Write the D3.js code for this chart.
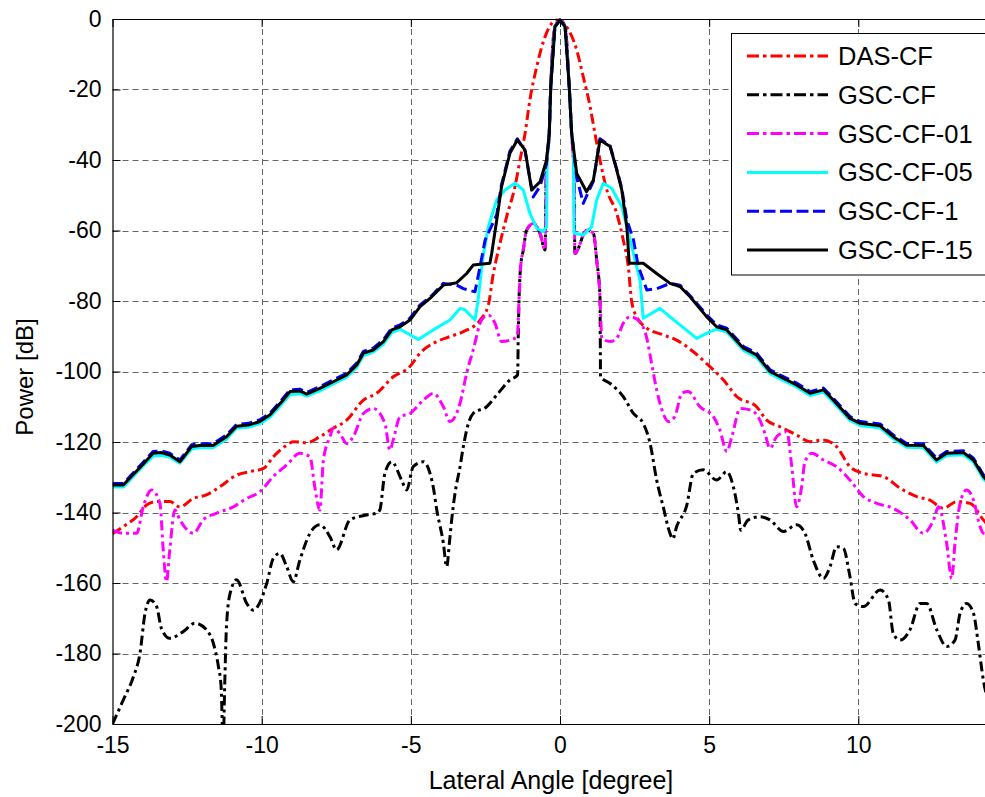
<!DOCTYPE html>
<html>
<head>
<meta charset="utf-8">
<script src="https://cdn.jsdelivr.net/npm/d3@7"></script>
<style>
  html, body { margin: 0; padding: 0; background: #fff; }
  svg { display: block; font-family: "Liberation Sans", Arial, sans-serif; }
</style>
</head>
<body>
<svg id="chart" width="985" height="797"></svg>
<script>
// ---------------- DATA ----------------
const seriesNames = ["DAS-CF", "GSC-CF", "GSC-CF-01", "GSC-CF-05", "GSC-CF-1", "GSC-CF-15"];
const xTicks = [-15, -10, -5, 0, 5, 10];
const xTickLabels = ["-15", "-10", "-5", "0", "5", "10"];
const yTicks = [0, -20, -40, -60, -80, -100, -120, -140, -160, -180, -200];
const yTickLabels = ["0", "-20", "-40", "-60", "-80", "-100", "-120", "-140", "-160", "-180", "-200"];

const dasX = [-15, -14.64, -14.19, -13.86, -13.52, -13.08, -12.74, -12.29, -11.85, -11.40, -10.84, -10.39, -9.94, -9.61, -9.16, -8.94, -8.49, -8.05, -7.60, -7.15, -6.59, -6.15, -5.59, -5.03, -4.69, -4.13, -3.69, -3.24, -2.68, -2.40, -2.25, -2.01, -1.79, -1.51, -1.34, -1.17, -1.01, -0.78, -0.50, -0.11, 0, 0.22, 0.56, 0.78, 1.01, 1.17, 1.34, 1.57, 1.90, 2.12, 2.29, 2.40, 2.57, 2.91, 3.46, 3.91, 4.47, 4.97, 5.48, 5.92, 6.59, 6.93, 7.38, 7.93, 8.38, 8.83, 9.27, 9.72, 10.17, 10.84, 11.40, 11.96, 12.40, 12.85, 13.30, 13.75, 14.19, 14.6];
const dasY = [-146, -144.0, -141.2, -137.9, -136.9, -136.9, -138.4, -136.0, -135.0, -132.7, -129.4, -128.4, -127.5, -124.2, -120.9, -119.9, -120.2, -118.5, -116.1, -113.8, -108.1, -106.2, -101.5, -98.6, -94.8, -91.5, -90.1, -88.7, -85.4, -81.1, -73.0, -63.6, -56.1, -47.6, -40.0, -32.4, -23.0, -13.5, -5.0, -0.3, -0.4, -2.2, -8.8, -16.4, -24.9, -32.4, -40.0, -48.5, -55.1, -62.7, -70.3, -80.0, -84.5, -87.7, -89.6, -91.1, -94.4, -98.2, -102.4, -107.1, -110.0, -113.8, -115.7, -118.0, -119.9, -119.4, -121.3, -127.0, -128.9, -129.8, -133.1, -135.5, -136.5, -138.8, -136.9, -137.4, -142.1, -146];

const gscX = [-15, -14.64, -14.30, -14.08, -13.91, -13.74, -13.52, -13.36, -13.08, -12.63, -12.24, -11.85, -11.62, -11.45, -11.36, -11.29, -11.24, -11.18, -11.06, -10.84, -10.50, -10.28, -9.83, -9.61, -9.39, -9.16, -8.94, -8.72, -8.38, -8.05, -7.71, -7.49, -7.04, -6.48, -6.15, -6.04, -5.87, -5.64, -5.31, -5.14, -4.92, -4.58, -4.25, -4.13, -3.91, -3.80, -3.70, -3.63, -3.52, -3.35, -3.24, -3.07, -2.91, -2.46, -2.12, -1.68, -1.42, -1.40, -1.37, -1.32, -1.23, -1.12, -0.89, -0.67, -0.50, -0.46, -0.36, -0.31, -0.17, 0, 0.17, 0.31, 0.39, 0.47, 0.50, 0.89, 1.12, 1.23, 1.34, 1.36, 1.68, 2.12, 2.46, 2.79, 3.02, 3.24, 3.46, 3.69, 3.78, 3.91, 4.25, 4.47, 4.80, 5.25, 5.59, 5.81, 5.98, 6.06, 6.31, 6.70, 7.04, 7.49, 7.93, 8.21, 8.49, 8.83, 9.05, 9.27, 9.50, 9.72, 9.89, 10.17, 10.73, 11.01, 11.17, 11.40, 11.73, 12.07, 12.29, 12.63, 12.96, 13.24, 13.41, 13.63, 13.86, 14.02, 14.19, 14.45];
const gscY = [-200, -193.2, -186.6, -180.0, -168.6, -164.8, -166.7, -172.9, -175.7, -173.8, -171.4, -173.3, -177.1, -183.7, -189.4, -206, -189.4, -172.4, -163.0, -159.1, -165.8, -167.7, -160.1, -153.0, -151.6, -155.4, -159.6, -153.5, -145.9, -143.5, -146.9, -150.6, -142.1, -140.7, -140.2, -139.3, -128.9, -125.6, -130.8, -133.6, -127.0, -125.6, -132.7, -139.3, -148.7, -155.4, -148.0, -142.0, -134.6, -127.0, -121.3, -114.7, -111.9, -110.0, -106.7, -102.4, -101.0, -90.0, -78.8, -70.3, -65.5, -59.9, -58.0, -60.8, -65.5, -42.0, -32.4, -19.2, -2.2, -0.3, -2.2, -19.2, -32.4, -45.0, -66.5, -59.9, -60.8, -68.4, -78.8, -101.5, -103.4, -107.1, -111.9, -114.7, -120.4, -130.8, -138.4, -146.0, -147.5, -144.0, -137.9, -128.9, -127.9, -130.8, -128.4, -132.7, -140.2, -145.0, -142.1, -141.2, -142.1, -145.4, -143.5, -145.9, -153.5, -158.7, -155.4, -149.7, -150.2, -158.2, -165.8, -166.7, -162.0, -164.8, -174.3, -176.2, -173.3, -165.8, -165.8, -173.3, -178.0, -176.2, -168.6, -165.8, -168.6, -177.1, -187.5, -196];

const gsc01X = [-15, -14.64, -14.19, -13.97, -13.69, -13.41, -13.30, -13.19, -13.08, -12.91, -12.74, -12.29, -11.96, -11.51, -10.95, -10.50, -10.06, -9.61, -9.16, -8.72, -8.38, -8.22, -8.05, -7.93, -7.71, -7.60, -7.38, -7.15, -6.93, -6.59, -6.26, -5.87, -5.70, -5.59, -5.36, -5.03, -4.58, -4.25, -3.91, -3.69, -3.35, -3.13, -2.91, -2.63, -2.40, -2.18, -1.96, -1.68, -1.43, -1.37, -1.32, -1.23, -1.12, -0.89, -0.67, -0.50, -0.46, -0.36, -0.31, -0.17, 0, 0.17, 0.31, 0.39, 0.47, 0.50, 0.89, 1.12, 1.23, 1.34, 1.40, 1.68, 1.90, 2.12, 2.35, 2.62, 2.91, 3.07, 3.24, 3.46, 3.63, 3.85, 4.08, 4.30, 4.69, 5.14, 5.36, 5.59, 5.76, 6.04, 6.37, 6.70, 6.87, 7.04, 7.26, 7.60, 7.77, 7.93, 8.10, 8.21, 8.44, 8.83, 9.27, 9.72, 10.17, 10.62, 11.17, 11.73, 12.18, 12.52, 12.69, 12.96, 13.13, 13.24, 13.41, 13.63, 13.86, 14.08, 14.19, 14.5];
const gsc01Y = [-145.0, -145.9, -145.9, -138.4, -133.6, -137.4, -150.6, -159.6, -150.6, -139.3, -142.1, -145.9, -142.1, -140.2, -138.4, -136.0, -134.1, -129.8, -126.5, -123.2, -124.2, -132.7, -139.3, -125.1, -118.5, -116.1, -117.6, -120.4, -118.5, -111.9, -110.5, -114.7, -122.3, -119.4, -112.8, -111.9, -108.1, -106.2, -110.0, -114.2, -109.0, -100.5, -93.9, -85.4, -84.0, -86.3, -91.5, -91.1, -90.1, -78.8, -70.3, -65.5, -59.9, -58.0, -60.8, -65.5, -42.0, -32.4, -19.2, -2.2, -0.3, -2.2, -19.2, -32.4, -45.0, -66.5, -59.9, -60.8, -68.4, -78.8, -90.6, -91.5, -90.6, -86.3, -84.5, -85.4, -90.6, -97.7, -105.2, -111.9, -114.2, -112.8, -106.2, -105.7, -110.0, -112.8, -116.6, -122.7, -118.5, -110.5, -110.9, -113.8, -117.6, -121.8, -118.5, -117.1, -127.0, -138.4, -132.7, -125.6, -123.2, -125.1, -127.0, -130.8, -135.5, -137.4, -138.8, -142.1, -145.9, -142.1, -138.4, -148.7, -158.7, -148.7, -137.4, -133.6, -136.5, -144.0, -145.9, -146];

const gsc05X = [-15, -14.64, -14.0, -13.64, -13.36, -13.08, -12.74, -12.35, -12.07, -11.63, -11.18, -10.84, -10.45, -10.06, -9.72, -9.33, -9.05, -8.72, -8.49, -8.05, -7.60, -7.15, -6.82, -6.59, -6.26, -5.92, -5.64, -5.36, -4.75, -4.25, -3.69, -3.35, -3.19, -2.85, -2.75, -2.58, -2.40, -2.12, -1.84, -1.51, -1.23, -1.01, -0.78, -0.56, -0.45, -0.43, -0.36, -0.31, -0.17, 0, 0.17, 0.31, 0.39, 0.45, 0.47, 0.78, 1.06, 1.23, 1.45, 1.73, 2.07, 2.46, 2.68, 2.79, 3.35, 3.69, 4.58, 5.03, 5.25, 5.59, 6.15, 6.59, 7.04, 7.38, 7.93, 8.38, 8.83, 9.16, 9.72, 10.06, 10.73, 11.17, 11.62, 12.18, 12.62, 12.96, 13.52, 13.86, 14.19, 14.5];
const gsc05Y = [-132.8, -132.8, -127.0, -124.0, -123.8, -124.3, -126.0, -122.0, -121.6, -121.6, -119.2, -116.0, -115.8, -114.8, -113.0, -109.3, -106.5, -106.3, -107.0, -105.5, -103.5, -101.6, -98.9, -95.5, -94.5, -92.2, -89.0, -88.0, -90.9, -88.2, -85.4, -82.1, -82.5, -85.4, -80.0, -67.4, -58.9, -51.3, -48.5, -46.6, -48.5, -55.1, -59.4, -60.3, -58.9, -39.1, -32.4, -19.2, -2.2, -0.3, -2.2, -19.2, -32.4, -36.2, -60.8, -61.3, -58.9, -51.3, -46.6, -48.0, -53.2, -66.5, -74.0, -84.9, -82.1, -84.5, -90.6, -88.7, -88.0, -88.8, -94.0, -96.0, -100.6, -102.1, -104.4, -106.8, -105.8, -108.7, -113.9, -115.3, -116.0, -119.1, -121.5, -121.6, -125.7, -123.8, -123.6, -125.7, -130.4, -133];

const gsc1X = [-15, -14.64, -14.0, -13.64, -13.36, -13.08, -12.74, -12.35, -12.07, -11.63, -11.18, -10.84, -10.45, -10.06, -9.72, -9.33, -9.05, -8.72, -8.49, -8.05, -7.60, -7.15, -6.82, -6.59, -6.26, -5.92, -5.64, -5.36, -5.03, -4.69, -4.30, -3.91, -3.46, -3.24, -2.85, -2.68, -2.51, -2.12, -1.96, -1.68, -1.43, -1.17, -0.90, -0.67, -0.45, -0.36, -0.31, -0.17, 0, 0.17, 0.31, 0.39, 0.56, 0.78, 1.12, 1.34, 1.68, 1.90, 2.07, 2.24, 2.46, 2.62, 2.91, 3.24, 3.69, 4.02, 4.36, 4.92, 5.25, 5.59, 6.15, 6.59, 7.04, 7.38, 7.93, 8.38, 8.83, 9.16, 9.72, 10.06, 10.73, 11.17, 11.62, 12.18, 12.62, 12.96, 13.52, 13.86, 14.19, 14.5];
const gsc1Y = [-131.8, -131.8, -126.0, -122.7, -122.5, -123.2, -125.1, -120.8, -120.5, -120.5, -118.0, -115.0, -114.7, -113.7, -111.8, -108.1, -105.2, -105.0, -105.9, -104.3, -102.4, -100.5, -97.7, -94.3, -93.4, -91.0, -87.7, -86.8, -84.9, -81.1, -78.5, -75.0, -75.5, -76.5, -77.4, -70.3, -62.7, -55.5, -47.0, -37.5, -34.0, -37.5, -50.5, -47.5, -41.0, -32.4, -19.2, -2.2, -0.3, -2.2, -19.2, -32.4, -45.0, -52.3, -46.0, -34.0, -36.0, -42.5, -48.0, -57.0, -62.5, -70.0, -76.9, -76.5, -75.0, -75.5, -78.5, -84.0, -86.8, -87.7, -92.9, -94.8, -99.5, -101.0, -103.3, -105.7, -104.7, -107.6, -112.8, -114.2, -114.9, -118.0, -120.4, -120.5, -124.6, -122.7, -122.5, -124.6, -129.3, -132];

const gsc15X = [-15, -14.64, -14.0, -13.64, -13.36, -13.08, -12.74, -12.35, -12.07, -11.63, -11.18, -10.84, -10.45, -10.06, -9.72, -9.33, -9.05, -8.72, -8.49, -8.05, -7.60, -7.15, -6.82, -6.59, -6.26, -5.92, -5.64, -5.36, -5.03, -4.69, -4.30, -3.91, -3.46, -3.13, -2.91, -2.35, -2.29, -2.12, -1.96, -1.68, -1.43, -1.17, -0.95, -0.67, -0.45, -0.36, -0.31, -0.17, 0, 0.17, 0.31, 0.39, 0.56, 0.89, 1.12, 1.34, 1.68, 1.90, 2.07, 2.24, 2.32, 2.79, 3.24, 3.69, 4.02, 4.36, 4.92, 5.25, 5.59, 6.15, 6.59, 7.04, 7.38, 7.93, 8.38, 8.83, 9.16, 9.72, 10.06, 10.73, 11.17, 11.62, 12.18, 12.62, 12.96, 13.52, 13.86, 14.19, 14.5];
const gsc15Y = [-132.2, -132.2, -126.5, -123.2, -123.0, -123.7, -125.6, -121.3, -121.0, -121.0, -118.5, -115.5, -115.2, -114.2, -112.3, -108.6, -105.7, -105.5, -106.4, -104.8, -102.9, -101.0, -98.2, -94.8, -93.9, -91.5, -88.2, -87.3, -85.4, -81.6, -78.8, -75.5, -74.8, -72.2, -69.8, -69.3, -66.5, -57.0, -47.6, -38.1, -34.3, -37.2, -48.5, -46.2, -40.0, -32.4, -19.2, -2.2, -0.3, -2.2, -19.2, -32.4, -43.8, -49.0, -45.7, -34.3, -36.2, -42.8, -48.5, -58.9, -69.3, -69.3, -72.2, -75.0, -75.9, -78.8, -84.5, -87.3, -88.2, -93.4, -95.3, -100.0, -101.5, -103.8, -106.2, -105.2, -108.1, -113.3, -114.7, -115.4, -118.5, -120.9, -121.0, -125.1, -123.2, -123.0, -125.1, -129.8, -132.5];

const seriesColors = ["#ff0000", "#000000", "#ff00ff", "#00ffff", "#0000ff", "#000000"];
const seriesDash = ["10,4,3,4", "10,4,3,4", "10,4,3,4", null, "11,5", null];
const seriesSmooth = [true, true, true, false, false, false];

// ---------------- LAYOUT ----------------
const svg = d3.select("#chart");
const L = 112.5, T = 19, B = 724, R = 1007.5;
const x = d3.scaleLinear().domain([-15, 15]).range([L, R]);
const y = d3.scaleLinear().domain([-200, 0]).range([B, T]);

const seriesData = [
  [dasX, dasY], [gscX, gscY], [gsc01X, gsc01Y], [gsc05X, gsc05Y], [gsc1X, gsc1Y], [gsc15X, gsc15Y]
].map(([xs, ys]) => xs.map((v, i) => [v, ys[i]]));

// clip
svg.append("defs").append("clipPath").attr("id", "plotclip")
  .append("rect").attr("x", L).attr("y", T - 3).attr("width", R - L).attr("height", B - T + 3);

// grid
const grid = svg.append("g").attr("stroke", "#666").attr("stroke-width", 1).attr("stroke-dasharray", "6,4");
grid.selectAll("line.vx").data(xTicks.filter(d => d !== -15)).join("line")
  .attr("x1", d => Math.round(x(d)) + 0.5).attr("x2", d => Math.round(x(d)) + 0.5)
  .attr("y1", T).attr("y2", B);
grid.selectAll("line.hy").data(yTicks.filter(d => d !== 0 && d !== -200)).join("line")
  .attr("x1", L).attr("x2", R)
  .attr("y1", d => Math.round(y(d)) + 0.5).attr("y2", d => Math.round(y(d)) + 0.5);

// lines
const lineLin = d3.line().x(d => x(d[0])).y(d => y(d[1])).curve(d3.curveLinear);
const lineSmooth = d3.line().x(d => x(d[0])).y(d => y(d[1])).curve(d3.curveMonotoneX);
const lines = svg.append("g").attr("clip-path", "url(#plotclip)");
seriesData.forEach((data, i) => {
  lines.append("path")
    .datum(data)
    .attr("d", seriesSmooth[i] ? lineSmooth : lineLin)
    .attr("fill", "none")
    .attr("stroke", seriesColors[i])
    .attr("stroke-width", 3)
    .attr("stroke-linejoin", "round")
    .attr("stroke-dasharray", seriesDash[i]);
});

// axes
const fontTick = 23;
const xAxis = d3.axisBottom(x).tickValues(xTicks).tickSizeInner(-8).tickSizeOuter(0).tickPadding(13)
  .tickFormat((d, i) => xTickLabels[i]);
const gx = svg.append("g").attr("transform", `translate(0,${B})`).call(xAxis);
const xTop = d3.axisTop(x).tickValues(xTicks).tickSizeInner(-8).tickSizeOuter(0).tickFormat("");
const gxt = svg.append("g").attr("transform", `translate(0,${T})`).call(xTop);
const yAxis = d3.axisLeft(y).tickValues(yTicks).tickSizeInner(-8).tickSizeOuter(0).tickPadding(11)
  .tickFormat((d, i) => yTickLabels[i]);
const gy = svg.append("g").attr("transform", `translate(${L},0)`).call(yAxis);
[gx, gxt, gy].forEach(g => {
  g.select(".domain").attr("stroke", "#000").attr("stroke-width", 1.2);
  g.selectAll(".tick line").attr("stroke", "#000").attr("stroke-width", 1);
  g.selectAll("text").attr("font-size", fontTick).attr("font-family", "Liberation Sans, Arial, sans-serif").attr("fill", "#000");
});
gx.selectAll(".tick text").attr("dy", "0.71em");

// axis labels
svg.append("text").attr("x", 551).attr("y", 789).attr("text-anchor", "middle")
  .attr("font-size", 25).text("Lateral Angle [degree]");
svg.append("text").attr("transform", "translate(33,377) rotate(-90)").attr("text-anchor", "middle")
  .attr("font-size", 24).text("Power [dB]");

// legend
const lg = svg.append("g");
lg.append("rect").attr("x", 731.5).attr("y", 33.5).attr("width", 280).attr("height", 241.5)
  .attr("fill", "#fff").attr("stroke", "#000").attr("stroke-width", 1);
seriesNames.forEach((name, i) => {
  const yy = 56 + i * 38.8;
  lg.append("line").attr("x1", 747).attr("x2", 828).attr("y1", yy).attr("y2", yy)
    .attr("stroke", seriesColors[i]).attr("stroke-width", 3)
    .attr("stroke-dasharray", seriesDash[i] ? (seriesDash[i] === "11,5" ? "12,4.5" : "12,4,3.5,4") : null);
  lg.append("text").attr("x", 838).attr("y", yy + 9).attr("font-size", 25.5).text(name);
});
</script>
</body>
</html>
